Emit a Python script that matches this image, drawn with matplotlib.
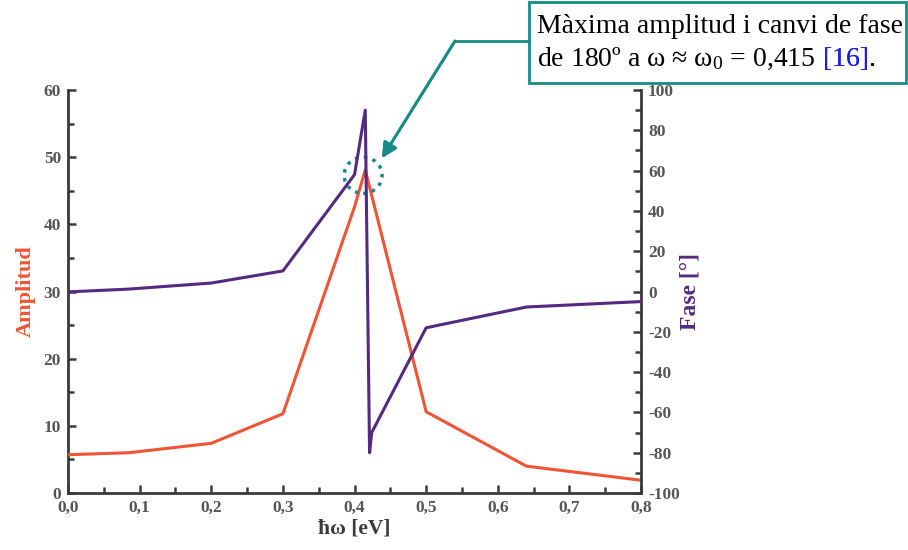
import numpy as np
import matplotlib
matplotlib.use("Agg")
import matplotlib.pyplot as plt
from matplotlib.patches import Ellipse, Rectangle
from matplotlib.lines import Line2D
from matplotlib.ticker import MultipleLocator, FuncFormatter

# Resonance curve: amplitude and phase vs photon energy
energy_amp = [0.0, 0.085, 0.2, 0.3, 0.4, 0.415, 0.5, 0.64, 0.8]
amplitude = [5.7, 6.0, 7.4, 11.8, 42.6, 48.1, 12.1, 4.0, 1.9]

energy_phase = [0.0, 0.085, 0.2, 0.3, 0.4, 0.415, 0.421, 0.424, 0.5, 0.64, 0.8]
phase = [-0.2, 1.2, 4.2, 10.2, 58.0, 90.0, -80.0, -70.0, -18.0, -7.7, -5.0]

red = "#ef5535"
purple = "#55297f"
teal = "#168b88"
axis_grey = "#3a3a3a"
label_grey = "#555555"

plt.rcParams["font.family"] = ["Liberation Serif", "DejaVu Serif"]
plt.rcParams["mathtext.default"] = "regular"

fig = plt.figure(figsize=(9.08, 5.5), dpi=100)
ax = fig.add_axes([0.0749, 0.1036, 0.6311, 0.7328])
ax2 = ax.twinx()

ax.plot(energy_amp, amplitude, color=red, lw=2.2, zorder=3)
ax2.plot(energy_phase, phase, color=purple, lw=2.2, zorder=3)

ax.set_xlim(0, 0.8)
ax.set_ylim(0, 60)
ax2.set_ylim(-100, 100)

comma = FuncFormatter(lambda v, p: f"{v:.1f}".replace(".", ","))
ax.xaxis.set_major_locator(MultipleLocator(0.1))
ax.xaxis.set_minor_locator(MultipleLocator(0.05))
ax.xaxis.set_major_formatter(comma)
ax.yaxis.set_major_locator(MultipleLocator(10))
ax.yaxis.set_minor_locator(MultipleLocator(5))
ax2.yaxis.set_major_locator(MultipleLocator(20))
ax2.yaxis.set_minor_locator(MultipleLocator(10))
ax2.yaxis.set_major_formatter(FuncFormatter(lambda v, p: f"{v:.0f}"))

for a in (ax, ax2):
    a.spines["top"].set_visible(False)
    for s in ("left", "right", "bottom"):
        a.spines[s].set_color(axis_grey)
        a.spines[s].set_linewidth(2)
    a.tick_params(which="major", direction="in", length=6, width=1.8,
                  color=axis_grey, labelsize=12.5, labelcolor=label_grey, pad=5)
    a.tick_params(which="minor", direction="in", length=4, width=1.8, color=axis_grey)
ax.spines["right"].set_visible(False)
ax2.spines["left"].set_visible(False)
ax2.spines["bottom"].set_visible(False)

for lab in ax.get_xticklabels() + ax.get_yticklabels() + ax2.get_yticklabels():
    lab.set_fontweight("bold")

ax.set_xlabel("ħω [eV]", fontsize=15.5, fontweight="bold", color=axis_grey, labelpad=2)
ax.set_ylabel("Amplitud", fontsize=16, fontweight="bold", color=red, labelpad=6)
ax2.set_ylabel("Fase [°]", fontsize=17, fontweight="bold", color=purple, labelpad=0)

# dotted ring around the resonance peak
ring = Ellipse((0.412, 47.3), 0.053, 5.4, fill=False, ec=teal, lw=2.5,
               ls=(0, (1, 1.6)), zorder=5)
ax.add_patch(ring)

# callout box with the resonance note
box = Rectangle((0.5826, 0.849), 0.415, 0.147, transform=fig.transFigure,
                fill=False, ec=teal, lw=2)
fig.patches.append(box)
fig.add_artist(Line2D([0.5011, 0.5826], [0.9255, 0.9255], color=teal, lw=2,
                      transform=fig.transFigure))
fig.add_artist(plt.annotate("", xy=(0.4207, 0.7127), xycoords="figure fraction",
                            xytext=(0.5011, 0.9255), textcoords="figure fraction",
                            arrowprops=dict(arrowstyle="-|>,head_length=0.9,head_width=0.45",
                                            color=teal, lw=2, shrinkA=0, shrinkB=0)))

fig.text(0.5914, 0.94, "Màxima amplitud i canvi de fase", fontsize=20,
         va="baseline", ha="left", color="black")
t1 = fig.text(0.5914, 0.88, "de 180º a ω ≈ ω$_0$ = 0,415", fontsize=20,
              va="baseline", ha="left", color="black")
t2 = plt.annotate("[16]", xy=(1, 0), xycoords=t1, xytext=(5, 0),
                  textcoords="offset points", fontsize=20, color="#1f1fe0",
                  va="bottom", ha="left", annotation_clip=False)
fig.add_artist(t2)
t3 = plt.annotate(".", xy=(1, 0), xycoords=t2, fontsize=20, color="black",
                  va="bottom", ha="left", annotation_clip=False)
fig.add_artist(t3)

fig.savefig("out.png", dpi=100)
